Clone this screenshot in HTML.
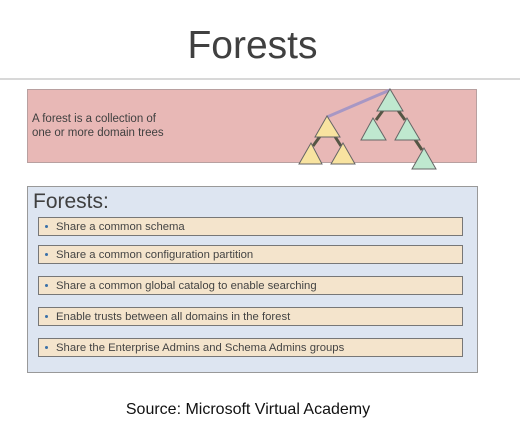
<!DOCTYPE html>
<html><head><style>
body{margin:0;width:520px;height:424px;background:#fff;position:relative;overflow:hidden;font-family:"Liberation Sans",sans-serif;}
.t{position:absolute;left:0;width:505px;text-align:center;top:22px;font-size:39px;color:#404040;line-height:48px;}
.hr{position:absolute;left:0;width:520px;top:78px;height:2px;background:#d8d8d8;}
.pink{position:absolute;left:27px;top:89px;width:450px;height:74px;background:#e8b8b6;border:1px solid #b8a0a0;box-sizing:border-box;}
.ptxt{position:absolute;left:32px;top:112px;font-size:11.5px;line-height:14px;color:#404040;}
.blue{position:absolute;left:27px;top:186px;width:451px;height:187px;background:#dde5f1;border:1px solid #999;box-sizing:border-box;}
.bt{position:absolute;left:33px;top:190px;font-size:21px;color:#404040;}
.bar{position:absolute;left:38px;width:425px;height:19px;background:#f4e4cc;border:1px solid #777;box-sizing:border-box;font-size:11.3px;color:#444;line-height:18px;padding-left:17px;}
.bar:before{content:"";position:absolute;left:6px;top:7px;width:3px;height:3px;background:#3a70a8;border-radius:50%;}
.src{position:absolute;left:0;width:496px;text-align:center;top:401px;font-size:16px;color:#111;}
svg{position:absolute;left:0;top:0;}
</style></head><body>
<div class="t">Forests</div>
<div class="hr"></div>
<div class="pink"></div>
<div class="ptxt">A forest is a collection of<br>one or more domain trees</div>
<svg width="520" height="424">
<g stroke-width="3">
<line x1="327" y1="117" x2="390" y2="90" stroke="#a797c4"/>
<line x1="321" y1="135" x2="313" y2="146" stroke="#554"/>
<line x1="334" y1="135" x2="341" y2="146" stroke="#554"/>
<line x1="384" y1="109" x2="376" y2="120" stroke="#554"/>
<line x1="397" y1="109" x2="405" y2="120" stroke="#554"/>
<line x1="414" y1="138" x2="422" y2="150" stroke="#554"/>
</g>
<g stroke="#666" stroke-width="1">
<polygon points="390,89 377,111 403,111" fill="#bfe8cf"/>
<polygon points="373,118 361,140 386,140" fill="#bfe8cf"/>
<polygon points="407,118 395,140 420,140" fill="#bfe8cf"/>
<polygon points="424,148 412,169 436,169" fill="#bfe8cf"/>
<polygon points="327,116 315,137 340,137" fill="#f8e3a0"/>
<polygon points="311,143 299,164 322,164" fill="#f8e3a0"/>
<polygon points="343,143 331,164 355,164" fill="#f8e3a0"/>
</g>
</svg>
<div class="blue"></div>
<div class="bt">Forests:</div>
<div class="bar" style="top:217px">Share a common schema</div>
<div class="bar" style="top:245px">Share a common configuration partition</div>
<div class="bar" style="top:276px">Share a common global catalog to enable searching</div>
<div class="bar" style="top:307px">Enable trusts between all domains in the forest</div>
<div class="bar" style="top:338px">Share the Enterprise Admins and Schema Admins groups</div>
<div class="src">Source: Microsoft Virtual Academy</div>
</body></html>
